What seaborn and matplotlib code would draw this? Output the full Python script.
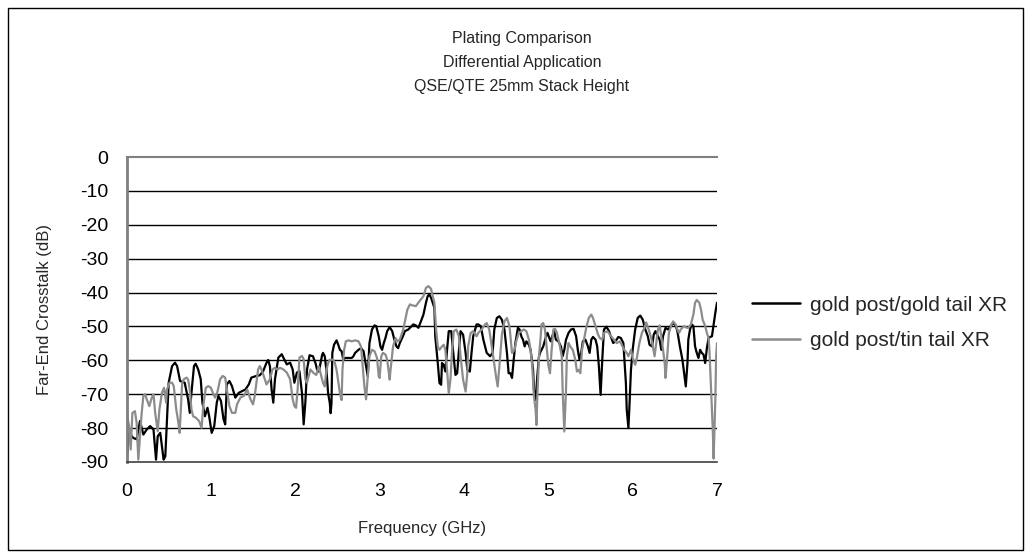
import matplotlib
matplotlib.use("Agg")
import matplotlib.pyplot as plt
import seaborn as sns
import pandas as pd
from matplotlib.patches import Rectangle

sns.set_theme(style="white")
plt.rcParams['font.family'] = ['Liberation Sans', 'DejaVu Sans']

title_lines = ["Plating Comparison", "Differential Application", "QSE/QTE 25mm Stack Height"]
series_names = ["gold post/gold tail XR", "gold post/tin tail XR"]
x_ticks = [0, 1, 2, 3, 4, 5, 6, 7]
y_ticks = [0, -10, -20, -30, -40, -50, -60, -70, -80, -90]

gold_freq = [
    0.00, 0.03, 0.08, 0.12, 0.16, 0.20, 0.24, 0.28, 0.32, 0.35, 0.37, 0.40, 0.44, 0.46, 0.50, 0.54,
    0.575, 0.60, 0.635, 0.69, 0.73, 0.75, 0.77, 0.80, 0.82, 0.85, 0.88, 0.90, 0.93, 0.96, 0.98, 1.01,
    1.04, 1.07, 1.09, 1.12, 1.15, 1.17, 1.19, 1.22, 1.25, 1.29, 1.33, 1.37, 1.41, 1.45, 1.48, 1.54,
    1.58, 1.62, 1.66, 1.68, 1.70, 1.72, 1.74, 1.76, 1.80, 1.84, 1.87, 1.90, 1.94, 1.97, 1.99, 2.02,
    2.05, 2.08, 2.10, 2.12, 2.14, 2.17,
    2.21, 2.24, 2.26, 2.28, 2.30, 2.32, 2.33, 2.35, 2.37, 2.39, 2.41, 2.42, 2.43, 2.44, 2.46, 2.49,
    2.51, 2.53, 2.55, 2.57, 2.59, 2.63, 2.67, 2.69, 2.71, 2.75, 2.78, 2.81, 2.84, 2.86, 2.88, 2.91,
    2.94, 2.96, 2.99, 3.01, 3.03, 3.05, 3.07, 3.09, 3.12, 3.15, 3.17, 3.20, 3.22, 3.24, 3.28, 3.30,
    3.34, 3.36, 3.40, 3.43, 3.46, 3.49, 3.52, 3.55, 3.57, 3.59, 3.61, 3.63, 3.65, 3.66, 3.69, 3.71,
    3.73, 3.74, 3.76, 3.78, 3.80, 3.82, 3.85, 3.87, 3.90, 3.92, 3.94, 3.96, 3.99, 4.02, 4.04, 4.07,
    4.09, 4.11, 4.15, 4.17, 4.20, 4.23, 4.27, 4.31, 4.34, 4.36, 4.39, 4.42, 4.45, 4.48, 4.51, 4.53,
    4.55, 4.57, 4.59, 4.61, 4.64, 4.66, 4.68, 4.70, 4.72, 4.74, 4.77, 4.79, 4.82, 4.83, 4.85, 4.87,
    4.89, 4.91, 4.92, 4.94, 4.98, 4.99, 5.02, 5.03, 5.06, 5.07, 5.09, 5.12, 5.15, 5.17, 5.19, 5.21,
    5.24, 5.27, 5.30, 5.33, 5.35, 5.37, 5.39, 5.41, 5.44, 5.47, 5.49, 5.51, 5.53, 5.56, 5.58, 5.60,
    5.62, 5.64, 5.66, 5.69, 5.72, 5.74, 5.77, 5.81, 5.83, 5.86, 5.89, 5.90, 5.92, 5.93, 5.95, 5.96,
    5.98, 6.00, 6.03, 6.06, 6.09, 6.12, 6.15, 6.18, 6.20, 6.23, 6.25, 6.27, 6.30, 6.32, 6.34, 6.36,
    6.39, 6.42, 6.45, 6.48, 6.51, 6.53, 6.56, 6.59, 6.61, 6.63, 6.65, 6.66, 6.68, 6.70, 6.72, 6.74,
    6.76, 6.78, 6.80, 6.82, 6.84, 6.86, 6.88, 6.90, 6.92, 6.94, 6.96, 6.98, 7.00,
]
gold_db = [
    -90.0, -81.4, -82.9, -83.3, -77.9, -81.9, -80.4, -79.4, -80.4, -89.3, -82.4, -81.4, -89.3, -88.3, -66.6, -61.7,
    -60.7, -61.7, -66.1, -66.6, -71.5, -75.5, -69.6, -61.7, -61.0, -62.7, -65.6, -72.5, -76.5, -74.0, -76.5, -81.4,
    -79.4, -72.5, -70.5, -72.0, -77.4, -78.9, -67.1, -66.1, -67.6, -71.0, -69.6, -69.1, -68.6, -67.1, -65.1, -64.6,
    -64.4, -63.2, -60.7, -59.9, -61.7, -68.6, -72.5, -65.6, -59.2, -58.2, -59.7, -61.2, -60.7, -62.7, -66.6, -63.6,
    -63.2, -69.6, -78.9, -72.5, -62.7, -58.5,
    -58.8, -60.8, -62.8, -63.3, -60.8, -58.3, -57.8, -58.8, -62.8, -69.7, -72.6, -75.6, -72.6, -57.8, -55.4, -54.1,
    -55.4, -56.9, -57.3, -59.8, -59.3, -59.3, -59.3, -58.8, -57.8, -56.9, -56.4, -57.3, -61.8, -64.7, -54.9, -50.9,
    -49.7, -49.9, -52.9, -55.9, -56.9, -54.9, -53.4, -51.4, -50.2, -51.4, -53.4, -55.9, -56.4, -54.9, -52.7, -51.4,
    -50.9, -50.4, -49.4, -49.7, -50.4, -48.5, -46.5, -43.0, -41.1, -40.6, -41.5, -43.0, -44.5, -52.9, -60.8, -66.7,
    -67.2, -60.8, -61.3, -63.3, -56.9, -51.4, -51.4, -56.9, -64.3, -63.8, -57.3, -51.4, -52.4, -57.8, -62.8, -63.3,
    -57.8, -52.9, -49.4, -49.4, -49.9, -53.9, -57.8, -58.8, -57.8, -50.9, -47.5, -47.0, -48.0, -50.9, -57.8, -63.8,
    -63.8, -65.2, -59.8, -54.9, -50.4, -50.9, -52.9, -53.9, -55.9, -54.4, -55.4, -56.9, -62.8, -68.7, -71.7, -64.7,
    -58.8, -57.3, -56.9, -55.9, -52.4, -51.9, -53.9, -54.4, -51.9, -51.4, -53.9, -54.4, -55.9, -58.8, -56.9, -53.9,
    -51.9, -50.9, -50.7, -52.9, -56.9, -59.8, -57.8, -54.4, -53.9, -55.9, -57.8, -53.9, -53.1, -53.9, -55.9, -61.8,
    -70.2, -59.8, -50.9, -50.1, -51.4, -52.9, -54.9, -53.9, -53.1, -53.4, -54.9, -58.8, -66.7, -74.6, -80.0, -74.6,
    -62.8, -56.9, -50.9, -47.5, -46.8, -48.0, -50.9, -52.9, -55.4, -55.9, -52.4, -51.4, -52.9, -53.9, -56.9, -52.9,
    -50.4, -50.9, -49.9, -49.0, -49.7, -51.4, -55.9, -59.8, -63.8, -67.7, -60.8, -53.9, -50.9, -49.4, -49.9, -55.9,
    -57.8, -59.3, -56.9, -57.8, -58.3, -60.8, -56.4, -53.4, -53.1, -52.9, -49.4, -46.0, -43.0,
]

tin_freq = [
    0.00, 0.03, 0.05, 0.07, 0.10, 0.12, 0.14, 0.16, 0.18, 0.20, 0.22, 0.24, 0.27, 0.30, 0.32, 0.34,
    0.37, 0.39, 0.42, 0.445, 0.47, 0.48, 0.51, 0.54, 0.56, 0.59, 0.615, 0.63, 0.64, 0.66, 0.68, 0.71,
    0.73, 0.75, 0.77, 0.79, 0.82, 0.86, 0.89, 0.91, 0.94, 0.97, 1.00, 1.03, 1.05, 1.08, 1.11, 1.14,
    1.17, 1.19, 1.22, 1.25, 1.29, 1.31, 1.35, 1.39, 1.43, 1.47, 1.50, 1.52, 1.54, 1.56, 1.58, 1.60,
    1.62, 1.66, 1.70, 1.73, 1.76, 1.79, 1.82, 1.86, 1.90, 1.94, 1.97, 1.99, 2.01, 2.03, 2.05, 2.08,
    2.10, 2.12, 2.14, 2.16, 2.18,
    2.22, 2.25, 2.28, 2.30, 2.33, 2.35, 2.37, 2.39, 2.41, 2.45, 2.47, 2.49, 2.51, 2.53, 2.55, 2.56,
    2.58, 2.60, 2.63, 2.67, 2.71, 2.75, 2.78, 2.80, 2.82, 2.84, 2.86, 2.88, 2.91, 2.94, 2.97, 2.99,
    3.00, 3.02, 3.04, 3.07, 3.09, 3.12, 3.13, 3.16, 3.19, 3.21, 3.24, 3.28, 3.30, 3.33, 3.36, 3.39,
    3.43, 3.46, 3.49, 3.52, 3.55, 3.58, 3.61, 3.63, 3.65, 3.67, 3.69, 3.71, 3.74, 3.76, 3.78, 3.80,
    3.82, 3.84, 3.86, 3.88, 3.91, 3.94, 3.96, 3.99, 4.02, 4.04, 4.05, 4.08, 4.11, 4.15, 4.17, 4.21,
    4.25, 4.27, 4.30, 4.33, 4.36, 4.38, 4.40, 4.42, 4.45, 4.48, 4.51, 4.54,
    4.57, 4.60, 4.62, 4.65, 4.68, 4.71, 4.74, 4.77, 4.79, 4.81, 4.83, 4.85, 4.86, 4.87, 4.89, 4.91,
    4.92, 4.94, 4.96, 4.98, 5.00, 5.02, 5.04, 5.06, 5.08, 5.10, 5.13, 5.16, 5.17, 5.19, 5.21, 5.22,
    5.24, 5.26, 5.29, 5.32, 5.34, 5.36, 5.38, 5.40, 5.43, 5.45, 5.48, 5.51, 5.53, 5.56, 5.59, 5.61,
    5.64, 5.66, 5.70, 5.73, 5.76, 5.78, 5.81, 5.85, 5.87, 5.90, 5.93, 5.95, 5.98, 6.00, 6.03, 6.05,
    6.08, 6.11, 6.14, 6.16, 6.19, 6.22, 6.24, 6.26, 6.28, 6.30, 6.32, 6.34, 6.36, 6.38, 6.39, 6.41,
    6.43, 6.46, 6.48, 6.51, 6.53, 6.55, 6.57, 6.59, 6.61, 6.64, 6.66, 6.69, 6.72, 6.74, 6.76, 6.79,
    6.81, 6.83, 6.86, 6.88, 6.90, 6.91, 6.93, 6.95, 6.96, 6.98, 6.99, 7.00,
]
tin_db = [
    -75.0, -79.4, -86.3, -75.5, -75.0, -78.4, -89.3, -82.4, -75.5, -70.5, -70.0, -71.5, -73.5, -71.0, -70.0, -75.5,
    -80.9, -74.5, -69.6, -68.1, -72.5, -68.6, -66.6, -66.6, -67.6, -74.5, -78.4, -81.4, -76.5, -66.6, -65.6, -65.1,
    -65.6, -68.6, -74.5, -76.5, -76.9, -77.9, -79.9, -73.5, -68.1, -67.6, -68.1, -70.0, -71.0, -69.1, -65.6, -64.6,
    -65.1, -68.6, -73.5, -75.5, -75.5, -73.0, -71.0, -70.5, -68.6, -71.5, -73.0, -70.5, -66.6, -62.7, -61.7, -62.7,
    -64.1, -67.1, -65.6, -62.7, -62.2, -62.7, -62.2, -62.7, -63.6, -65.6, -71.5, -73.5, -74.0, -68.1, -59.2, -58.7,
    -59.7, -65.6, -66.6, -64.6, -62.7,
    -63.8, -64.3, -61.8, -63.8, -66.7, -67.7, -62.8, -60.8, -59.8, -59.8, -60.8, -62.8, -66.2, -69.7, -71.7, -62.8,
    -56.9, -54.4, -54.1, -54.4, -54.1, -54.4, -55.9, -61.8, -67.7, -71.5, -64.7, -58.8, -56.9, -57.3, -59.3, -64.7,
    -65.2, -58.8, -57.8, -58.3, -59.8, -65.7, -62.8, -55.9, -53.4, -54.4, -53.9, -50.9, -48.5, -45.0, -43.5, -43.8,
    -44.0, -43.0, -42.0, -41.1, -38.6, -38.1, -38.9, -41.1, -43.0, -50.9, -55.9, -56.9, -55.9, -55.4, -56.9, -62.8,
    -69.7, -65.7, -56.9, -51.4, -50.9, -52.9, -58.8, -65.7, -69.2, -63.8, -55.9, -51.9, -51.4, -52.9, -51.9, -50.9,
    -49.4, -49.0, -50.9, -55.9, -61.3, -64.7, -67.7, -61.8, -52.4, -48.5, -47.5, -49.9,
    -57.8, -56.9, -54.4, -51.9, -51.4, -50.9, -51.4, -53.9, -56.9, -61.8, -70.7, -74.6, -79.1, -70.7, -58.8, -52.9,
    -49.4, -49.0, -50.9, -55.9, -61.3, -63.8, -56.9, -50.9, -50.7, -51.7, -54.9, -58.8, -68.7, -81.0, -68.7, -58.8,
    -54.9, -55.9, -56.9, -59.8, -63.3, -62.8, -63.8, -56.9, -52.9, -50.4, -47.5, -46.5, -47.5, -49.9, -52.4, -53.4,
    -53.9, -51.9, -51.4, -52.4, -53.4, -53.9, -54.9, -54.4, -55.4, -56.9, -57.8, -58.8, -56.9, -59.3, -61.3, -59.3,
    -54.9, -51.9, -50.4, -48.8, -50.9, -53.4, -55.9, -58.8, -54.9, -50.9, -49.7, -52.9, -56.9, -60.8, -65.2, -58.8,
    -51.9, -49.4, -48.5, -49.4, -50.9, -51.9, -50.9, -50.4, -49.9, -50.4, -50.4, -49.4, -46.5, -43.0, -42.2, -43.0,
    -45.0, -48.0, -49.9, -51.9, -53.4, -56.9, -68.7, -80.5, -89.0, -71.7, -58.8, -54.9,
]

df = pd.concat([
    pd.DataFrame({"Frequency": gold_freq, "dB": gold_db, "series": series_names[0]}),
    pd.DataFrame({"Frequency": tin_freq, "dB": tin_db, "series": series_names[1]}),
], ignore_index=True)

fig = plt.figure(figsize=(10.31, 5.58), dpi=100)
fig.patch.set_facecolor("white")
fig.patches.append(Rectangle((8 / 1031, 8 / 558), 1015 / 1031, 542 / 558, transform=fig.transFigure,
                             fill=False, edgecolor="black", linewidth=1.0))

ax = fig.add_axes([126.5 / 1031, 1 - 462 / 558, (717 - 126.5) / 1031, (462 - 157) / 558])
ax.set_facecolor("white")

sns.lineplot(data=df, x="Frequency", y="dB", hue="series", palette=["#000000", "#8c8c8c"],
             sort=False, estimator=None, linewidth=1.6, ax=ax, legend=True)

ax.set_xlim(0, 7)
ax.set_ylim(-90, 0)
ax.set_xticks(x_ticks)
ax.set_yticks(y_ticks)
ax.set_xticklabels([str(t) for t in x_ticks], fontsize=14)
ax.set_yticklabels([str(t) for t in y_ticks], fontsize=14)
for t in y_ticks[1:-1]:
    ax.axhline(t, color="black", linewidth=1.0, zorder=0.5)

for s in ["left", "top"]:
    ax.spines[s].set_color("#808080")
ax.spines["left"].set_linewidth(2.0)
ax.spines["top"].set_linewidth(1.5)
ax.spines["right"].set_visible(False)
ax.spines["bottom"].set_color("#404040")
ax.spines["bottom"].set_linewidth(1.2)
ax.tick_params(axis="both", direction="out", length=4.3, width=1, color="#404040", labelcolor="black")
ax.tick_params(axis="y", pad=9)
ax.tick_params(axis="x", pad=11)
ax.grid(False)

ax.set_xlabel("Frequency (GHz)", fontsize=12, labelpad=15)
ax.set_ylabel("Far-End Crosstalk (dB)", fontsize=12, labelpad=20)

ys = [38, 62, 86]
for line, y in zip(title_lines, ys):
    fig.text(522 / 1031, 1 - y / 558, line, ha="center", va="center", fontsize=11.5)

leg = ax.legend(loc="center left", bbox_to_anchor=(733 / 1031, 1 - 323 / 558), bbox_transform=fig.transFigure,
                frameon=False, fontsize=15, handlelength=2.3, handletextpad=0.48, labelspacing=0.8)
for h in leg.get_lines():
    h.set_linewidth(1.8)

fig.savefig("out.png", dpi=100, facecolor="white")
